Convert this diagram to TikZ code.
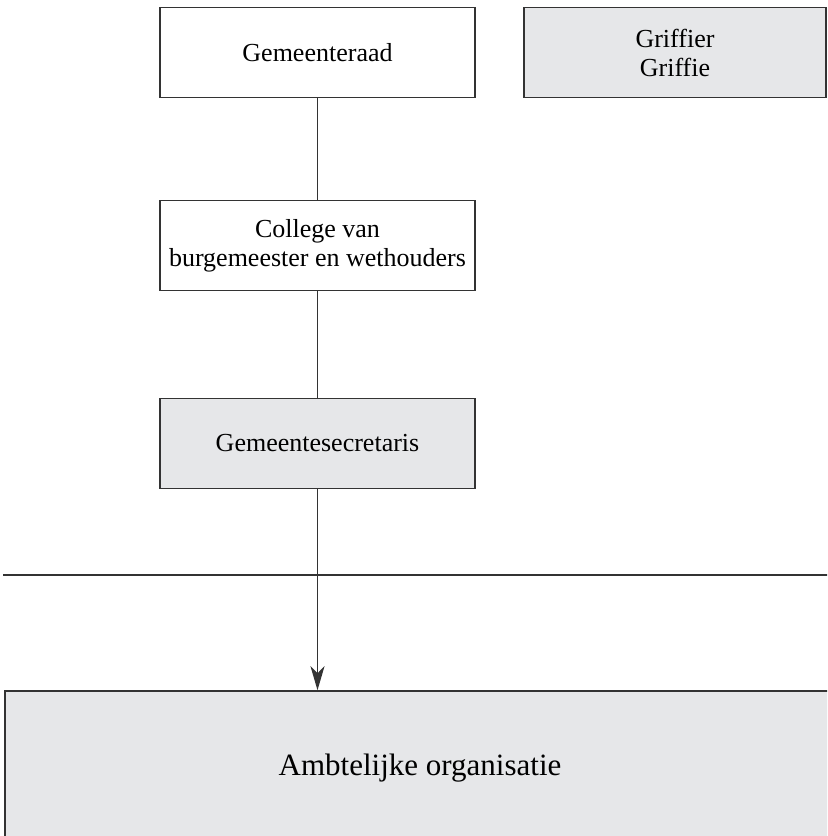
\documentclass[tikz,border=0pt]{standalone}
\usepackage{fontspec}
\setmainfont{Liberation Serif}
\usetikzlibrary{arrows.meta,positioning}
\definecolor{boxgrey}{HTML}{E6E7E9}
\definecolor{linegrey}{HTML}{333333}
\tikzset{
	orgbox/.style={draw=linegrey, line width=0.75pt, minimum width=157.5pt, minimum height=45pt, align=center, inner sep=2pt, font=\fontsize{13}{14.5}\selectfont},
	greybox/.style={orgbox, fill=boxgrey},
	orgline/.style={draw=linegrey, line width=0.75pt},
}

\begin{document}
\begin{tikzpicture}[x=0.5pt,y=-0.5pt]
	\useasboundingbox (0,0) rectangle (827,836);
	\clip (0,0) rectangle (827,836);
	% top row
	\node[orgbox] (raad) at (317.5,52.5) {Gemeenteraad};
	\node[greybox, minimum width=151pt] (griffie) at (675,52.5) {Griffier\\Griffie};
	% chain below the council
	\node[orgbox] (college) at (317.5,245.5) {College van\\burgemeester en wethouders};
	\node[greybox] (secretaris) at (317.5,443.5) {Gemeentesecretaris};
	\node[greybox, minimum width=415pt, minimum height=77pt, font=\fontsize{15.5}{18}\selectfont] (organisatie) at (420,768) {Ambtelijke organisatie};
	% dividing line
	\coordinate (lijnL) at (3,575);
	\coordinate (lijnR) at (830,575);
	\draw[orgline] (lijnL) -- (lijnR);
	\draw[orgline] (raad) -- (college);
	\draw[orgline] (college) -- (secretaris);
	\draw[orgline, -{Stealth[length=12pt, width=7pt, inset=3.5pt]}] (secretaris.south) -- (organisatie.north -| secretaris.south);
\end{tikzpicture}
\end{document}
